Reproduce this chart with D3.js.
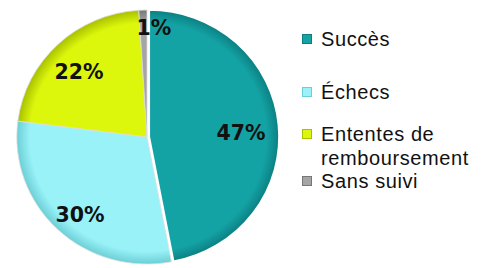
<!DOCTYPE html>
<html><head><meta charset="utf-8">
<script src="https://cdn.jsdelivr.net/npm/d3@7"></script>
<style>body{margin:0;background:#fff}svg{display:block}</style>
</head><body>
<svg id="c" width="488" height="268"></svg>
<script>
const categories = ["Succès", "Échecs", "Ententes de remboursement", "Sans suivi"];
const values = [47, 30, 22, 1];
const labels = ["47%", "30%", "22%", "1%"];
const legendLines = [["Succès"], ["Échecs"], ["Ententes de", "remboursement"], ["Sans suivi"]];
const colors = ["#14a3a5", "#99f2f8", "#dcf70c", "#a5a5a5"];
const darkColors = ["#0b7f81", "#6ccfd6", "#a9c000", "#777"];

const svg = d3.select("#c");
const defs = svg.append("defs");
colors.forEach((c, i) => {
  const g = defs.append("radialGradient").attr("id", "g" + i)
    .attr("gradientUnits", "userSpaceOnUse").attr("cx", 0).attr("cy", 0).attr("r", 127);
  g.append("stop").attr("offset", "0.9").attr("stop-color", c);
  g.append("stop").attr("offset", "1").attr("stop-color", darkColors[i]);
});

const cx = 147, cy = 137, R = 127;
const pie = d3.pie().sort(null).value(d => d);
const arcs = pie(values);
const arc = d3.arc().innerRadius(0).outerRadius(R);
const g = svg.append("g").attr("transform", `translate(${cx},${cy})`);
g.append("g").attr("transform", "scale(1.025,1)")
  .selectAll("path").data(arcs).enter().append("path")
  .attr("d", arc)
  .attr("fill", (d, i) => `url(#g${i})`)
  .attr("stroke", (d, i) => i === 0 ? "#fff" : "#ddd")
  .attr("stroke-width", (d, i) => i === 0 ? 2 : 0.8)
  .attr("transform", (d, i) => {
    if (i !== 0) return null;
    const a = (d.startAngle + d.endAngle) / 2;
    return `translate(${Math.sin(a) * 2},${-Math.cos(a) * 2})`;
  });

const labelPos = [[94, -4], [-67, 78], [-68, -65], [7, -109]];
g.selectAll("text.lbl").data(arcs).enter().append("text")
  .attr("class", "lbl")
  .attr("x", (d, i) => labelPos[i][0])
  .attr("y", (d, i) => labelPos[i][1])
  .attr("text-anchor", "middle")
  .attr("dominant-baseline", "central")
  .attr("font-family", "DejaVu Sans, sans-serif")
  .attr("font-weight", "bold")
  .attr("font-size", 20.5)
  .attr("fill", "#111")
  .text((d, i) => labels[i]);

const legY = [39, 92, 134, 181];
const leg = svg.append("g");
categories.forEach((c, i) => {
  leg.append("rect").attr("x", 302.5).attr("y", legY[i] - 4.5).attr("width", 9).attr("height", 9)
    .attr("fill", colors[i]).attr("stroke", darkColors[i]).attr("stroke-width", 1);
  legendLines[i].forEach((t, j) => {
    leg.append("text").attr("x", 321).attr("y", legY[i] + j * 24)
      .attr("dominant-baseline", "central")
      .attr("font-family", "Liberation Sans, Arial, sans-serif")
      .attr("letter-spacing", 0.6)
      .attr("font-size", 20).attr("fill", "#111").text(t);
  });
});
</script>
</body></html>
